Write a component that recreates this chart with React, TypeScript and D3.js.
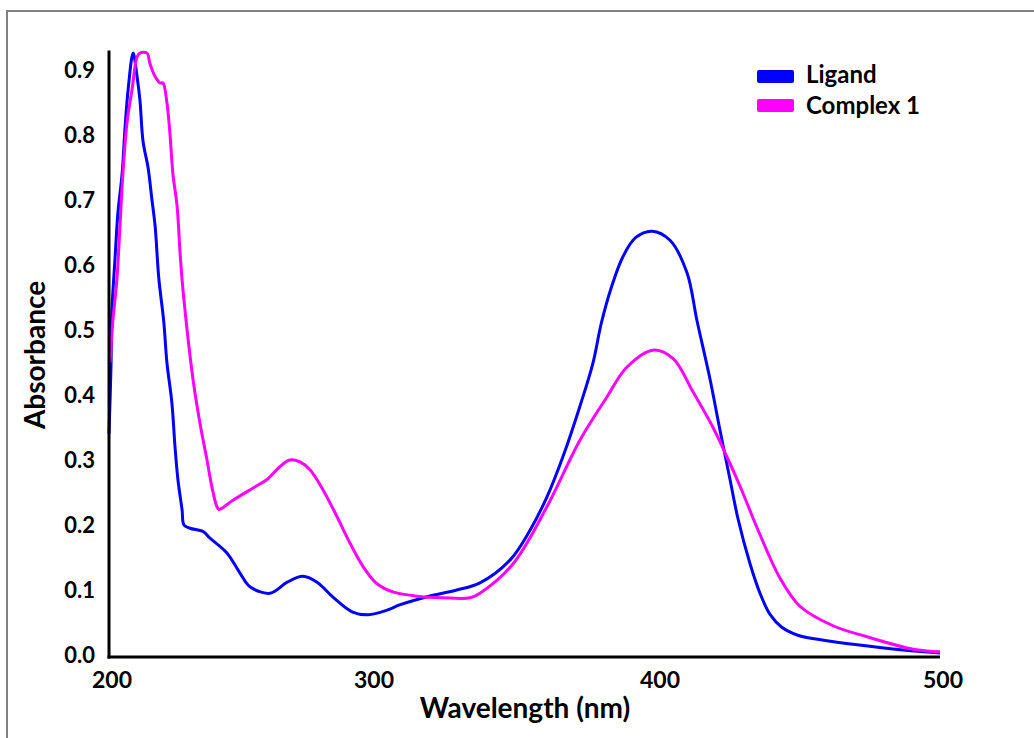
import React, { useEffect, useRef } from "react";
import * as d3 from "d3";

const ligandWl = [200, 200.8, 201, 202.3, 203.4, 205, 206.1, 207.3, 209.2, 210.7, 211.8, 213, 214.9, 216.4, 217.6, 219, 220.9, 222.1, 224, 225.2, 226.3, 227.9, 228.6, 230.9, 235.9, 238.5, 245, 250, 253.8, 261.5, 268, 274, 279.4, 285.5, 293, 298.9, 305.6, 310, 320, 330, 338.1, 348.6, 355.6, 361.5, 367.1, 373, 377.6, 380.5, 384, 388, 392.5, 398.3, 404.6, 410.6, 414.1, 418.7, 422.3, 425.8, 428.6, 432.9, 436.4, 440, 444, 450, 460, 470, 486, 500];
const ligandAbs = [0.34, 0.45, 0.52, 0.61, 0.68, 0.74, 0.81, 0.87, 0.926, 0.89, 0.854, 0.79, 0.75, 0.7, 0.66, 0.58, 0.513, 0.45, 0.388, 0.32, 0.27, 0.223, 0.2, 0.195, 0.19, 0.18, 0.157, 0.126, 0.105, 0.095, 0.112, 0.121, 0.112, 0.089, 0.066, 0.062, 0.069, 0.077, 0.09, 0.1, 0.111, 0.146, 0.192, 0.243, 0.305, 0.382, 0.449, 0.51, 0.565, 0.612, 0.642, 0.652, 0.638, 0.588, 0.515, 0.425, 0.345, 0.27, 0.21, 0.14, 0.095, 0.062, 0.043, 0.03, 0.022, 0.016, 0.008, 0.003];

const complexWl = [200.4, 201.5, 203, 204.2, 205.3, 206.9, 208.8, 210.7, 211.8, 214.5, 215.6, 217.6, 219.5, 220.6, 222.1, 223.3, 224.4, 226, 227.1, 227.9, 229.8, 232.1, 234.7, 237.4, 239.3, 241.2, 242, 247.3, 255, 260.3, 265.3, 269, 272.9, 276.7, 281.7, 287, 292, 297, 302, 307.7, 317, 325, 334.6, 338.1, 349.6, 361.5, 373, 382.5, 389.5, 398.6, 405.7, 412.7, 419.8, 424.7, 429.3, 436.4, 443.5, 450.5, 462.2, 474.2, 490.5, 500];
const complexAbs = [0.45, 0.515, 0.577, 0.66, 0.74, 0.82, 0.87, 0.92, 0.926, 0.926, 0.91, 0.89, 0.88, 0.88, 0.85, 0.8, 0.74, 0.69, 0.62, 0.577, 0.5, 0.423, 0.357, 0.3, 0.258, 0.228, 0.224, 0.238, 0.257, 0.27, 0.29, 0.3, 0.297, 0.285, 0.254, 0.213, 0.172, 0.136, 0.11, 0.097, 0.09, 0.088, 0.088, 0.095, 0.14, 0.228, 0.33, 0.397, 0.443, 0.469, 0.456, 0.405, 0.35, 0.305, 0.26, 0.185, 0.118, 0.075, 0.045, 0.028, 0.009, 0.005];

const xTicks = [200, 300, 400, 500];
const yTicks = [0, 0.1, 0.2, 0.3, 0.4, 0.5, 0.6, 0.7, 0.8, 0.9];
const seriesNames = ["Ligand", "Complex 1"];
const seriesColors = ["#0000ff", "#ff00ff"];

const FONT = "Lato, 'Open Sans', sans-serif";

export default function App() {
  const ref = useRef<SVGSVGElement | null>(null);

  useEffect(() => {
    const svg = d3.select(ref.current);
    svg.selectAll("*").remove();

    const x = d3.scaleLinear().domain([200, 300, 400, 500]).range([109, 371, 657, 940]);
    const y = d3.scaleLinear().domain([0, 0.9]).range([655, 70]);

    // frame
    svg.append("line").attr("x1", 6).attr("x2", 1034).attr("y1", 11).attr("y2", 11)
      .attr("stroke", "#808080").attr("stroke-width", 2);
    svg.append("line").attr("x1", 7).attr("x2", 7).attr("y1", 10).attr("y2", 738)
      .attr("stroke", "#808080").attr("stroke-width", 2);

    const line = d3.line<[number, number]>()
      .x((d) => x(d[0]))
      .y((d) => y(d[1]))
      .curve(d3.curveCatmullRom.alpha(0.5));

    const data: [number, number][][] = [
      ligandWl.map((w, i) => [w, ligandAbs[i]] as [number, number]),
      complexWl.map((w, i) => [w, complexAbs[i]] as [number, number]),
    ];

    [0, 1].forEach((k) => {
      svg.append("path")
        .attr("d", line(data[k]) as string)
        .attr("fill", "none")
        .attr("stroke", seriesColors[k])
        .attr("stroke-width", 3)
        .attr("stroke-linejoin", "round");
    });

    // axes lines
    svg.append("line").attr("x1", 109).attr("x2", 109).attr("y1", y(0.93)).attr("y2", 658.5)
      .attr("stroke", "#000").attr("stroke-width", 3);
    svg.append("line").attr("x1", 107.5).attr("x2", x(500)).attr("y1", 657).attr("y2", 657)
      .attr("stroke", "#000").attr("stroke-width", 3);

    // y tick labels
    svg.append("g").selectAll("text").data(yTicks).join("text")
      .attr("x", 95)
      .attr("y", (d) => y(d))
      .attr("dy", "0.36em")
      .attr("text-anchor", "end")
      .attr("font-family", FONT)
      .attr("font-weight", "bold")
      .attr("font-size", 22)
      .attr("fill", "#000")
      .text((d) => d3.format(".1f")(d));

    // x tick labels
    svg.append("g").selectAll("text").data(xTicks).join("text")
      .attr("x", (d) => x(d) + 3)
      .attr("y", 688)
      .attr("text-anchor", "middle")
      .attr("font-family", FONT)
      .attr("font-weight", "bold")
      .attr("font-size", 23)
      .attr("fill", "#000")
      .text((d) => String(d));

    svg.append("text")
      .attr("x", 525).attr("y", 718)
      .attr("text-anchor", "middle")
      .attr("font-family", FONT).attr("font-weight", "bold").attr("font-size", 28)
      .text("Wavelength (nm)");

    svg.append("text")
      .attr("transform", "translate(45,355) rotate(-90)")
      .attr("text-anchor", "middle")
      .attr("font-family", FONT).attr("font-weight", "bold").attr("font-size", 28)
      .text("Absorbance");

    // legend
    const lg = svg.append("g");
    seriesNames.forEach((name, i) => {
      const yy = 70 + i * 29;
      lg.append("rect").attr("x", 757).attr("y", yy).attr("width", 37).attr("height", 13)
        .attr("rx", 2).attr("fill", seriesColors[i]);
      lg.append("text").attr("x", 806).attr("y", 83 + i * 31)
        .attr("font-family", FONT).attr("font-weight", "bold").attr("font-size", 24)
        .text(name);
    });
  }, []);

  return (
    <svg
      ref={ref}
      width={1034}
      height={738}
      style={{ position: "absolute", left: 0, top: 0, background: "#fff" }}
    />
  );
}
